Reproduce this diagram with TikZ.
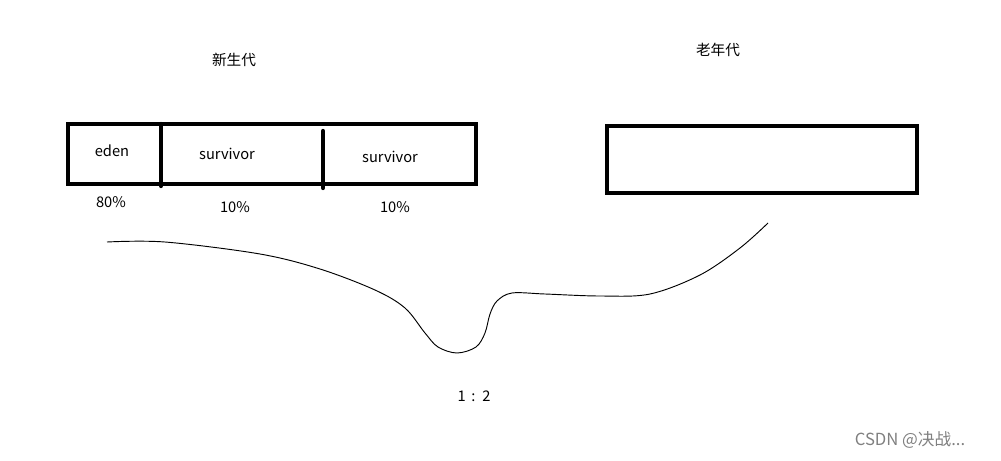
\documentclass[tikz,border=0pt]{standalone}
\usepackage{fontspec}
\setmainfont{Noto Sans CJK SC}
\usetikzlibrary{positioning}

\begin{document}
\begin{tikzpicture}[
    x=0.75pt,y=-0.75pt,
    heap/.style={draw,line width=3.6pt},
    split/.style={line width=3.2pt,line cap=round},
    lbl/.style={font=\fontsize{11}{13}\selectfont,inner sep=0pt},
    wmark/.style={font=\fontsize{12.5}{14}\selectfont,inner sep=0pt,text=black!50}
  ]
    \useasboundingbox (0,0) rectangle (1001,461);
    % young generation
    \draw[heap] (68,124) rectangle (476,184);
    \draw[split] (161,124) -- (161,186);
    \draw[split] (323,131) -- (323,188);
    \node[lbl] (young) at (234,60) {新生代};
    \node[lbl] (eden) at (112,151) {eden};
    \node[lbl] (surv1) at (227,154) {survivor};
    \node[lbl] (surv2) at (390,157) {survivor};
    \node[lbl] (pe) at (111,202) {80\%};
    \node[lbl] (ps1) at (235,207) {10\%};
    \node[lbl] (ps2) at (395,207) {10\%};
    % old generation
    \draw[heap] (607,126) rectangle (917,193);
    \node[lbl] (old) at (718,50) {老年代};
    % hand-drawn line
    \draw[line width=0.7pt] plot[smooth,tension=0.55] coordinates {
      (107,242) (165,242) (260,254) (320,269) (375,290) (405,308)
      (425,333) (438,347) (457,353) (476,347) (485,333) (490,314)
      (497,301) (512,293) (545,294) (600,296) (650,294) (700,275)
      (740,248) (768,223)};
    \node[lbl] (ratio) at (474,396) {1 \,:\, 2};
    \node[wmark] (wm) at (910,440) {CSDN @决战...};
\end{tikzpicture}
\end{document}
